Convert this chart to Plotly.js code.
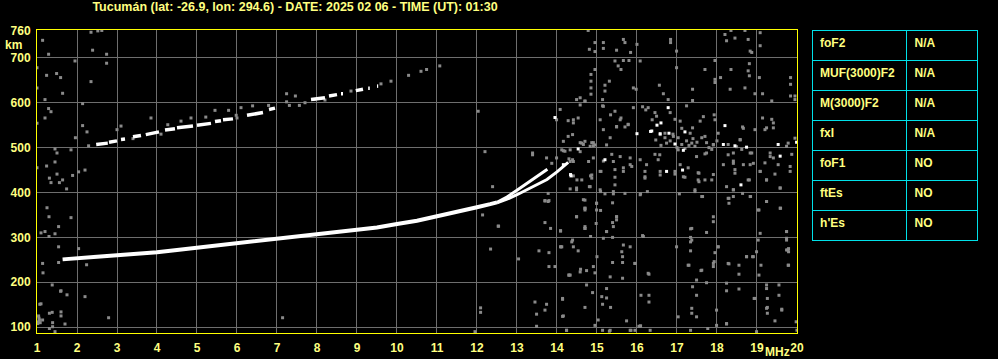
<!DOCTYPE html>
<html>
<head>
<meta charset="utf-8">
<script src="https://cdn.plot.ly/plotly-3.0.1.min.js"></script>
<style>html,body{margin:0;padding:0;background:#000;}#chart{width:998px;height:359px;}</style>
</head>
<body>
<div id="chart"></div>
<script>
// ---------- data ----------
const titleText = "Tucumán (lat: -26.9, lon: 294.6) - DATE: 2025 02 06 - TIME (UT): 01:30";
const freqTicks = [1,2,3,4,5,6,7,8,9,10,11,12,13,14,15,16,17,18,19,20];
const heightTicks = [100,200,300,400,500,600,700,760];

// main F trace (frequency MHz, virtual height km)
const mainF = [1.64,2.0,2.5,3.0,3.5,4.0,4.5,5.0,5.5,6.0,6.5,7.0,7.5,8.0,8.5,9.0,9.5,10.0,10.5,11.0,11.5,12.0,12.33,12.5];
const mainH = [251,254,257,260,263,267,272,277,282,286,292,296,302,307,312,316,322,330,337,347,356,367,374,378];
// upper branch near the cusp
const branchAF = [12.5,12.75,13.0,13.25,13.5,13.76];
const branchAH = [378,390,405,421,437,452];
// lower branch near the cusp
const branchBF = [12.5,12.75,13.0,13.25,13.5,13.75,14.0,14.2,14.28];
const branchBH = [377,385,395,406,417,429,446,462,467];
// second-hop trace (segments separated by null)
const hop2F = [2.48,2.77,null,2.8,3.0,null,3.1,3.2,null,3.4,3.6,null,3.72,4.05,null,4.2,4.45,null,4.5,4.9,null,5.0,5.35,null,5.45,5.6,null,5.65,5.9,null,6.25,6.65,null,6.8,6.95,null,7.85,8.2,null,8.3,8.5,null,8.6,8.65,null,8.97,9.15,null,9.28,9.32,null,9.5,9.53];
const hop2H = [507,510,null,512,515,null,518,519,null,524,527,null,529,535,null,539,542,null,544,548,null,550,554,null,558,560,null,562,564,null,572,578,null,585,588,null,607,611,null,615,618,null,620,620,null,627,630,null,632,632,null,637,637];
// isolated bright echoes
const brightF = [16.78,16.6,16.37,16.0,18.2,18.16,17.16,16.95,19.53,19.58,14.16,15.2,14.34,16.74,18.45,18.74,17.2,16.58,18.6,13.95,14.53,14.35,16.34,16.8,17.14,19.99,16.5];
const brightH = [589,555,537,531,549,507,494,508,507,481,462,473,440,447,504,501,535,531,417,567,497,437,536,532,450,512,550];
// grey noise echoes
const noiseF = [
2.35,2.52,2.62,1.14,1.29,2.39,2.74,1.95,2.74,1.0,1.24,1.49,1.59,2.35,1.64,1.0,1.2,1.29,1.35,1.2,2.14,3.85,2.14,2.25,1.96,2.29,1.0,
1.45,1.5,1.85,1.24,1.45,1.5,1.35,1.31,1.56,1.64,1.74,1.89,2.04,2.2,1.0,1.25,1.3,1.85,1.54,1.1,1.2,1.45,1.3,1.54,2.04,1.14,1.54,2.24,1.15,1.38,1.6,1.75,2.2,1.1,1.04,1.08,1.14,1.31,1.38,1.6,1.6,1.39,1.7,1.39,1.31,1.45,2.79,1.06,1.07,1.59,1.03,1.05,1.02,
3.0,4.27,4.6,4.85,5.45,5.79,6.1,6.39,6.79,7.24,7.46,7.24,7.93,8.85,9.6,9.85,10.29,10.6,10.74,11.07,7.31,7.56,5.98,5.22,3.1,3.4,4.1,6.0,7.7,8.2,
7.14,12.34,13.04,12.54,12.14,13.7,13.84,14.09,13.55,13.8,14.09,13.8,13.95,14.3,12.09,12.09,13.45,13.74,13.49,13.7,14.14,14.14,13.49,11.95,14.24,13.7,13.8,12.03,12.2,13.39,13.99,14.16,14.33,14.41,14.58,14.7,14.28,14.62,14.87,14.95,
13.39,12.39,12.53,14.7,14.49,14.7,14.66,13.78,13.78,13.7,14.33,14.33,14.87,14.99,14.83,13.74,13.87,14.12,14.58,14.7,14.91,14.41,13.99,14.3,
15.08,15.16,15.34,15.49,15.58,15.78,15.16,15.24,15.41,15.58,15.83,15.87,16.22,16.38,16.47,16.57,16.7,16.74,16.91,17.03,17.12,17.33,17.37,17.49,17.66,17.7,17.74,17.95,17.91,18.03,18.28,18.41,18.49,18.58,18.66,18.83,18.91,19.08,19.2,19.33,19.41,19.58,19.78,19.83,19.95,
17.45,17.62,17.53,17.7,17.87,18.78,19.24,18.41,18.28,18.83,19.24,19.58,19.03,19.74,19.74,19.74,19.78,19.08,18.74,18.91,18.28,17.91,18.03,17.91,17.91,17.37,17.37,17.28,17.62,16.99,16.16,15.95,16.28,15.62,15.83,15.24,15.49,15.41,14.99,14.7,14.7,14.37,14.41,14.12,15.16,15.33,14.58,14.91,15.0,14.33,15.08,15.41,16.08,16.2,16.2,16.58,17.16,17.08,15.08,14.62,14.49,14.41,14.79,14.87,
14.78,14.95,14.81,14.95,15.16,15.16,15.66,15.7,15.49,15.84,16.0,15.45,15.66,15.8,15.53,15.6,14.95,14.85,14.85,14.85,14.85,15.2,15.2,15.31,15.14,14.58,14.7,14.49,15.91,15.98,16.08,16.56,16.66,16.84,16.84,16.99,16.99,16.78,17.39,17.39,17.7,17.95,17.95,17.95,18.09,18.2,18.35,18.24,18.45,18.7,18.78,18.83,18.87,18.81,18.78,18.81,18.35,18.33,18.7,18.95,19.08,19.08,19.06,19.14,19.37,19.84,19.84,19.84,19.95,19.95,
14.08,14.28,14.41,14.53,14.39,14.16,14.66,14.91,15.14,15.45,15.6,15.78,15.33,15.49,15.7,15.91,16.14,16.28,16.45,16.49,16.83,16.95,17.08,17.24,17.39,17.58,17.93,18.64,18.95,19.14,19.37,19.41,19.24,16.58,16.7,16.83,17.03,17.12,17.24,17.45,17.62,17.74,17.91,17.7,17.87,18.28,18.58,18.41,18.62,18.87,18.41,18.83,19.33,19.41,19.74,19.87,19.2,14.58,14.83,14.2,14.39,14.91,15.16,15.37,15.45,15.66,15.83,16.08,16.24,16.45,16.53,16.58,16.95,17.28,17.53,17.91,18.16,18.45,18.66,19.08,19.53,19.83,
17.0,17.2,17.3,17.5,17.8,18.0,16.9,16.6,17.4,
14.5,14.84,14.49,14.81,15.1,15.45,15.66,15.45,15.09,15.2,15.41,15.7,16.2,16.09,16.26,16.95,17.06,17.2,17.45,17.55,17.55,17.64,18.24,18.41,18.45,18.64,18.84,18.3,18.3,18.41,18.81,19.24,19.45,19.58,19.24,19.59,19.05,14.7,14.7,14.99,15.09,14.49,15.39,15.49,15.39,15.49,14.7,14.98,15.24,14.09,14.84,15.39,16.14,15.66,14.39,14.1,14.53,15.64,15.39,15.64,15.95,14.59,14.74,14.95,14.3,15.64,16.3,
17.34,17.34,17.34,17.34,17.74,18.03,17.95,17.93,17.91,17.6,17.3,18.3,18.55,18.74,18.89,18.99,18.55,19.1,19.77,19.79,19.74,19.74,19.03,19.05,17.49,17.74,17.39,17.49,17.37,17.37,17.49,17.99,17.99,18.24,18.55,18.24,18.24,18.95,19.24,19.24,19.26,19.26,19.26,19.55,19.55,19.45,19.62,18.93,19.98,20.0,18.99,17.77,16.1,16.3,16.3,16.05,15.83,15.95,15.74,15.31,15.03,14.95,15.14,15.14,15.12,15.24,15.34,14.7,14.89,14.74,15.24,14.14,14.16,14.24,16.08,16.33,17.03,15.33,15.85,16.09,17.34,19.24,19.62,18.24,19.79,19.79
];
const noiseH = [
757,760,761,739,708,717,708,693,688,678,661,665,656,647,621,633,607,587,580,566,598,566,549,535,522,504,554,
497,488,495,459,468,441,422,432,422,428,408,438,446,450,455,366,346,344,324,310,313,308,302,279,275,242,244,239,221,194,181,172,168,152,125,110,116,131,133,134,125,110,107,101,97,90,121,116,151,180,112,120,108,
540,551,559,566,583,583,589,593,594,620,615,602,607,626,642,648,661,670,674,682,594,594,572,568,548,520,530,566,600,606,
121,274,252,325,350,333,320,315,270,266,279,235,235,216,143,133,156,151,129,138,162,124,102,90,93,382,382,581,491,488,562,493,495,562,595,603,525,510,511,506,
484,413,325,324,346,361,384,398,380,381,408,469,439,376,413,477,465,495,491,514,504,437,477,475,
562,592,573,547,562,551,540,506,469,480,477,458,584,562,517,484,532,510,525,495,543,532,510,480,569,525,488,562,506,532,484,465,502,517,543,488,465,447,540,480,555,410,510,458,521,
406,391,428,428,428,428,428,406,387,391,380,365,361,313,294,272,238,309,257,257,242,242,279,335,346,320,294,238,227,279,302,242,220,268,279,313,346,324,361,365,320,290,279,279,298,212,223,235,257,216,406,402,395,432,447,439,435,462,447,428,406,469,469,432,
761,734,719,714,734,721,741,734,717,712,730,693,694,694,682,674,674,663,648,633,619,639,626,648,607,611,604,607,633,630,693,639,620,741,734,715,678,607,630,605,674,694,652,645,656,752,761,738,744,761,741,715,712,687,671,660,674,630,633,620,756,727,656,620,604,656,641,615,615,607,
585,560,555,566,529,514,507,511,593,581,566,552,522,546,546,589,591,589,578,570,578,563,559,593,544,559,573,546,540,566,563,544,544,529,522,515,522,507,515,503,522,511,507,486,496,507,518,488,496,488,470,462,488,477,503,485,466,511,503,492,473,477,470,485,451,455,462,473,462,485,473,447,447,455,444,440,462,451,462,447,462,447,
500,498,505,512,500,515,530,505,520,
428,437,410,413,447,434,447,417,402,397,397,398,435,397,402,441,397,434,402,443,424,391,413,406,443,398,391,387,376,391,428,428,441,410,380,365,361,383,365,376,360,346,377,346,333,339,320,331,313,314,302,300,304,283,294,279,270,257,244,244,242,229,226,221,216,209,218,
319,300,290,270,311,279,266,246,235,226,238,241,238,257,257,268,218,238,272,238,313,298,294,216,205,199,190,171,142,131,123,138,104,181,185,198,107,164,194,186,164,144,131,194,171,114,140,164,112,93,90,97,171,171,156,102,93,93,114,91,116,104,93,151,168,165,144,144,177,194,186,164,125,93,102,93,123,93,93,103,93,142,138,108,275,268
];
// ionospheric parameters table
const paramNames = ["foF2","MUF(3000)F2","M(3000)F2","fxI","foF1","ftEs","h'Es"];
const paramValues = ["N/A","N/A","N/A","N/A","NO","NO","NO"];

// ---------- styles ----------
const txtYellow = '#ffff80';
const frameYellow = '#ffff00';
const gridGrey = '#6e6e6e';
const noiseGrey = '#8a8a8a';
const cyan = '#00e0e8';
const baseFont = {family:'Liberation Sans, Arial, sans-serif', size:12, color:txtYellow, weight:'bold'};
const titleFont = Object.assign({}, baseFont, {size:12.5});

const traces = [
  {type:'scatter', mode:'markers', x:noiseF, y:noiseH, hoverinfo:'skip',
   marker:{symbol:'square', size:3, color:noiseGrey, line:{width:0}}},
  {type:'scatter', mode:'lines', x:mainF, y:mainH, hoverinfo:'skip',
   line:{color:'#ffffff', width:4}},
  {type:'scatter', mode:'lines', x:branchAF, y:branchAH, hoverinfo:'skip',
   line:{color:'#ffffff', width:3}},
  {type:'scatter', mode:'lines', x:branchBF, y:branchBH, hoverinfo:'skip',
   line:{color:'#ffffff', width:3}},
  {type:'scatter', mode:'lines', x:hop2F, y:hop2H, connectgaps:false, hoverinfo:'skip',
   line:{color:'#ffffff', width:3.5}},
  {type:'scatter', mode:'markers', x:brightF, y:brightH, hoverinfo:'skip',
   marker:{symbol:'square', size:3, color:'#ffffff', line:{width:0}}},
  {type:'table', domain:{x:[0.8065,0.9792], y:[0.3003,1]}, columnwidth:[95,71],
   header:{values:[paramNames[0], paramValues[0]], align:'left', height:30,
     fill:{color:'#000000'}, line:{color:cyan, width:1}, font:baseFont},
   cells:{values:[paramNames.slice(1), paramValues.slice(1)], align:'left', height:30,
     fill:{color:'#000000'}, line:{color:cyan, width:1}, font:baseFont}}
];

const axisCommon = {
  showgrid:true, gridcolor:gridGrey, gridwidth:1, zeroline:false,
  showline:true, mirror:true, linecolor:frameYellow, linewidth:1,
  ticks:'', tickfont:baseFont, fixedrange:true
};

const layout = {
  width:998, height:359,
  margin:{l:37, r:0, t:30, b:26, pad:0},
  paper_bgcolor:'#000000', plot_bgcolor:'#000000',
  showlegend:false,
  title:{text:titleText, font:titleFont, xref:'container', x:0.2956, xanchor:'center',
         yref:'container', y:0.981, yanchor:'middle'},
  xaxis:Object.assign({}, axisCommon, {domain:[0,0.7908], range:[1,20], tickvals:freqTicks,
         ticktext:freqTicks.map(String), ticklabelstandoff:4}),
  yaxis:Object.assign({}, axisCommon, {range:[87,762], tickvals:heightTicks,
         ticktext:heightTicks.map(String), ticklabelstandoff:3}),
  annotations:[
    {text:'km', xref:'paper', yref:'paper', x:-0.0245, y:0.9505, xanchor:'center', yanchor:'middle',
     showarrow:false, font:baseFont},
    {text:'MHz', xref:'paper', yref:'paper', x:0.7705, y:-0.062, xanchor:'center', yanchor:'middle',
     showarrow:false, font:baseFont}
  ]
};

Plotly.newPlot('chart', traces, layout, {staticPlot:true, displayModeBar:false});
</script>
</body>
</html>
